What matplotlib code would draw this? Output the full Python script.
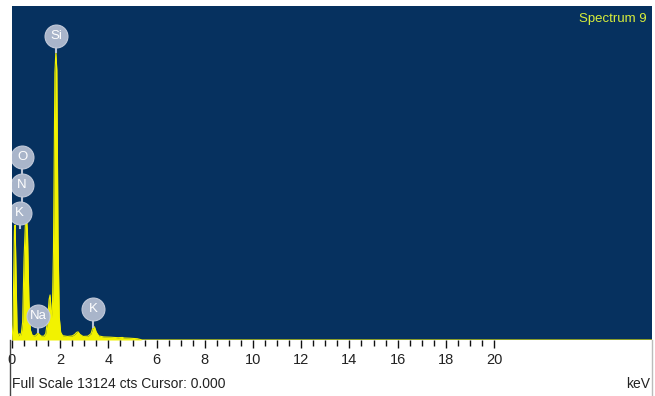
import matplotlib
matplotlib.use("Agg")
import matplotlib.pyplot as plt
import numpy as np

# ---- data ----
energy_keV = [0.00, 0.04, 0.10, 0.13, 0.17, 0.21, 0.26, 0.32, 0.38, 0.44, 0.50, 0.56,
              0.60, 0.64, 0.70, 0.76, 0.84, 0.94, 1.02, 1.08, 1.14, 1.22, 1.32, 1.40,
              1.48, 1.54, 1.58, 1.62, 1.67, 1.72, 1.78, 1.82, 1.86, 1.91, 1.96, 2.02,
              2.10, 2.30, 2.50, 2.60, 2.68, 2.74, 2.82, 2.95, 3.15, 3.28, 3.36, 3.42,
              3.50, 3.60, 3.80, 4.10, 4.40, 4.58, 4.65, 4.90, 5.20, 5.40, 26.6]
counts = [0, 600, 4300, 4520, 2500, 400, 150, 250, 200, 700, 3200, 4700,
          4790, 4300, 1600, 400, 180, 160, 220, 290, 210, 150, 150, 250,
          800, 1600, 1770, 1200, 900, 3500, 10500, 11320, 10600, 4000, 900, 300,
          170, 140, 160, 220, 300, 320, 220, 140, 150, 250, 500, 520,
          300, 160, 120, 110, 90, 100, 80, 70, 50, 0, 0]

full_scale = 13124
element_labels = ["Si", "O", "N", "K", "Na", "K"]
label_energy = [1.83, 0.42, 0.42, 0.32, 1.08, 3.36]
label_counts = [11950, 7190, 6090, 4990, 940, 1220]
stem_to = [11320, 6090, 4990, 4400, 300, 520]

tick_major = [0, 2, 4, 6, 8, 10, 12, 14, 16, 18, 20]
tick_minor = list(np.arange(0, 20.01, 0.5))

# ---- figure ----
W, H = 655, 396
fig = plt.figure(figsize=(W / 100, H / 100), dpi=100)
fig.patch.set_facecolor("white")

navy = "#06315f"
yellow = "#f2f200"
ax = fig.add_axes([12 / W, (H - 340) / H, 640 / W, 334 / H])
ax.set_facecolor(navy)
xmax = 640 / 24.1
ax.set_xlim(0, xmax)
ax.set_ylim(0, full_scale)

ax.fill_between(energy_keV, counts, 0, color=yellow, lw=0)
ax.plot(energy_keV, counts, color=yellow, lw=0.8)

# element markers
for lab, e, c, s in zip(element_labels, label_energy, label_counts, stem_to):
    ax.plot([e, e], [c, s], color="#b8c2d4", lw=1.5, zorder=4)
    ax.plot(e, c, "o", ms=16.5, mfc="#a9b5ca", mec="#c2cada", mew=0.8, zorder=5)
    ax.text(e, c, lab, color="white", fontsize=9.5, ha="center", va="center", zorder=6,
            family=["Liberation Sans", "DejaVu Sans"])

ax.text(0.992, 0.962, "Spectrum 9", transform=ax.transAxes, ha="right", va="center",
        color="#d8ee3a", fontsize=9.5, family=["Liberation Sans", "DejaVu Sans"])

for s in ax.spines.values():
    s.set_visible(False)
ax.set_yticks([])
ax.set_xticks(tick_major)
ax.set_xticks(tick_minor, minor=True)
ax.tick_params(axis="x", which="major", direction="out", length=6, width=1, color="#111111",
               pad=3, labelsize=10.5)
ax.tick_params(axis="x", which="minor", direction="out", length=4, width=1, color="#111111")
for t in ax.get_xticklabels():
    t.set_fontfamily(["Liberation Sans Narrow", "Liberation Sans", "DejaVu Sans"])
    t.set_color("#222222")

# bottom panel text
fig.text(12 / W, 1 - 384 / H, "Full Scale 13124 cts Cursor: 0.000", ha="left", va="center",
         fontsize=10, color="#222222",
         family=["Liberation Sans Narrow", "Liberation Sans", "DejaVu Sans"])
fig.text(650 / W, 1 - 384 / H, "keV", ha="right", va="center", fontsize=10, color="#222222",
         family=["Liberation Sans Narrow", "Liberation Sans", "DejaVu Sans"])

# panel borders
fig.add_artist(plt.Line2D([10 / W, 10 / W], [0, 1 - 340 / H], color="#444444", lw=1))
fig.add_artist(plt.Line2D([652 / W, 652 / W], [0, 1 - 340 / H], color="#bbbbbb", lw=1))

fig.savefig("out.png", dpi=100, facecolor="white")
